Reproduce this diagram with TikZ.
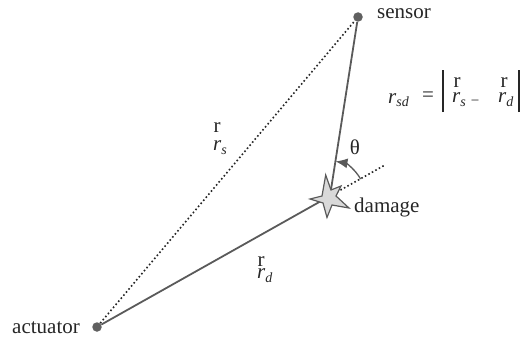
\documentclass[tikz,border=0pt]{standalone}
\usepackage{fontspec}
\setmainfont{Liberation Serif}
\usetikzlibrary{arrows.meta,calc}
\definecolor{linegray}{HTML}{5A5A5A}
\definecolor{dotgray}{HTML}{606060}
\definecolor{starfill}{HTML}{D9D9D9}
\newcommand{\myvec}[1]{\textit{r}\raisebox{-4pt}{\fontsize{14}{14}\selectfont\textit{#1}}}
\begin{document}
\begin{tikzpicture}[x=1pt,y=1pt,
  every node/.style={font=\fontsize{21}{24}\selectfont, inner sep=0pt, text=black!85},
  solidline/.style={draw=linegray, line width=1.8pt},
  dotline/.style={draw=black!85, line width=1.6pt, dash pattern=on 1.6pt off 2.4pt},
  devdot/.style={circle, fill=dotgray, minimum size=9.5pt, inner sep=0pt},
  lbl/.style={anchor=base west},
  bar/.style={draw=black!85, line width=1.2pt}]
\useasboundingbox (0,0) rectangle (523,341);
% points
\node[devdot] (act) at (97,14) {};
\node[devdot] (sen) at (358,324) {};
\coordinate (dmg) at (330,145);
\coordinate (ext) at (385,176);
% connectors
\draw[dotline] (act) -- (sen);
\draw[solidline] (act) -- (dmg);
\draw[solidline] (sen) -- (dmg);
\draw[dotline] (dmg) -- (ext);
\draw[draw=linegray, line width=1.3pt, -{Latex[length=12pt,width=10pt]}]
  ($(dmg)+(29:35)$) arc[start angle=29, end angle=81, radius=35];
% star
\draw[fill=starfill, draw=linegray, line width=1.2pt, line join=miter]
  (325.7,166) -- (331,151) -- (341,155) -- (336,145) -- (349,133) -- (332,136)
  -- (327,123.5) -- (323,138) -- (310,142) -- (322,145) -- cycle;
% labels
\node[lbl] (tsen) at (377,322) {sensor};
\node[lbl] (tact) at (12,8) {actuator};
\node[lbl] (tdmg) at (354,129) {damage};
\node (theta) at (355,194) {θ};
\node[anchor=base] (rsa) at (217,208) {r};
\node[lbl] (rsb) at (213,191) {\myvec{s}};
\node[anchor=base] (rda) at (261,75) {r};
\node[lbl] (rdb) at (257,63) {\myvec{d}};
% formula
\node[lbl] (rsd) at (388,238) {\myvec{sd}};
\node[anchor=base] (eq) at (428,240) {=};
\draw[bar] (443,229) -- (443,271);
\node[anchor=base] (fa) at (457,254) {r};
\node[lbl] (fb) at (452,239) {\myvec{s}};
\node[anchor=base, font=\fontsize{15}{15}\selectfont] (minus) at (475,236) {−};
\node[anchor=base] (fc) at (504,254) {r};
\node[lbl] (fd) at (498,239) {\myvec{d}};
\draw[bar] (519,229) -- (519,271);
\end{tikzpicture}
\end{document}
